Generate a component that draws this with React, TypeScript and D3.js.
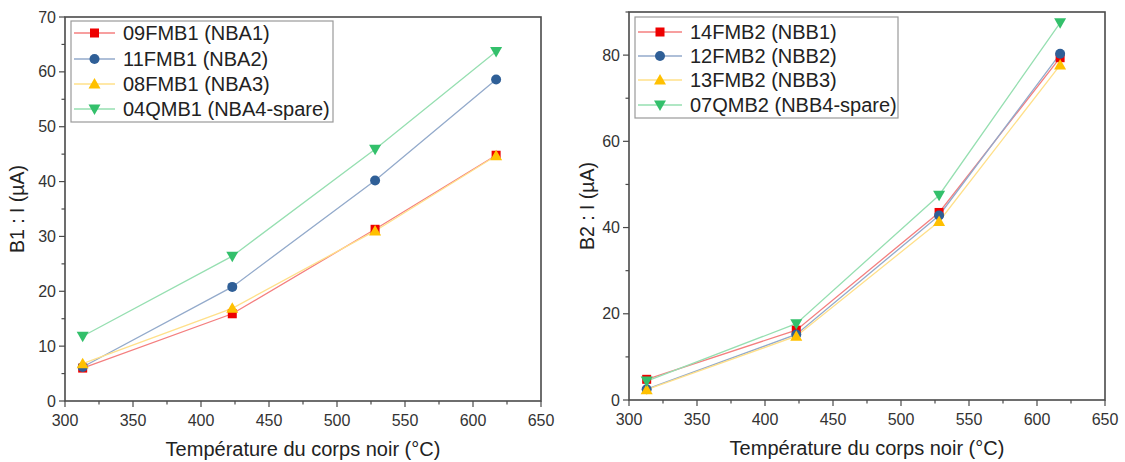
import React from "react";
import * as d3 from "d3";

const temps = [313, 423, 528, 617];

const leftNames = ["09FMB1 (NBA1)", "11FMB1 (NBA2)", "08FMB1 (NBA3)", "04QMB1 (NBA4-spare)"];
const leftA1 = [6.0, 15.9, 31.3, 44.8];
const leftA2 = [6.2, 20.8, 40.2, 58.6];
const leftA3 = [6.8, 16.9, 31.0, 44.7];
const leftA4 = [11.8, 26.4, 45.9, 63.7];

const rightNames = ["14FMB2 (NBB1)", "12FMB2 (NBB2)", "13FMB2 (NBB3)", "07QMB2 (NBB4-spare)"];
const rightB1 = [4.8, 16.2, 43.5, 79.4];
const rightB2 = [2.5, 15.2, 42.8, 80.3];
const rightB3 = [2.4, 14.8, 41.4, 77.7];
const rightB4 = [4.4, 17.7, 47.5, 87.5];

const xTicks = [300, 350, 400, 450, 500, 550, 600, 650];
const leftYTicks = [0, 10, 20, 30, 40, 50, 60, 70];
const rightYTicks = [0, 20, 40, 60, 80];

const markerShapes = ["square", "circle", "triangle", "triangleDown"];
const markerColors = ["#ee0000", "#2f5f97", "#ffc000", "#33c06b"];
const lineColors = ["#f47f7f", "#93aacb", "#ffe08a", "#96dfb1"];

const FONT = "'Liberation Sans', Arial, sans-serif";

function Marker({ shape, x, y, color }: { shape: string; x: number; y: number; color: string }) {
  if (shape === "square") return <rect x={x - 4.5} y={y - 4.5} width={9} height={9} fill={color} />;
  if (shape === "circle") return <circle cx={x} cy={y} r={5} fill={color} />;
  if (shape === "triangle")
    return <path d={`M${x},${y - 6} L${x + 6},${y + 4.5} L${x - 6},${y + 4.5} Z`} fill={color} />;
  return <path d={`M${x},${y + 6} L${x + 6},${y - 4.5} L${x - 6},${y - 4.5} Z`} fill={color} />;
}

type PanelProps = {
  x0: number; x1: number; yTop: number; yBot: number;
  yMax: number; yTicks: number[]; yMinor: number;
  series: number[][]; names: string[]; ylabel: string;
  legend: { x: number; y: number; w: number; h: number; rowY: number[]; textX: number };
  yLabelX: number;
};

function Panel(p: PanelProps) {
  const xs = d3.scaleLinear().domain([300, 650]).range([p.x0, p.x1]);
  const ys = d3.scaleLinear().domain([0, p.yMax]).range([p.yBot, p.yTop]);
  const line = d3.line<number>().x((_, i) => xs(temps[i])).y((d) => ys(d));
  const xMinor = d3.range(300, 651, 25);
  const yMinorTicks = d3.range(0, p.yMax + 0.001, p.yMinor);
  const axisColor = "#4a4a4a";
  return (
    <g>
      {xMinor.map((t) => (
        <line key={"xm" + t} x1={xs(t)} x2={xs(t)} y1={p.yBot} y2={p.yBot + (t % 50 === 0 ? 6 : 3.5)} stroke={axisColor} strokeWidth={1.2} />
      ))}
      {yMinorTicks.map((t) => (
        <line key={"ym" + t} x1={p.x0} x2={p.x0 - (p.yTicks.includes(t) ? 6 : 3.5)} y1={ys(t)} y2={ys(t)} stroke={axisColor} strokeWidth={1.2} />
      ))}
      <rect x={p.x0} y={p.yTop} width={p.x1 - p.x0} height={p.yBot - p.yTop} fill="none" stroke={axisColor} strokeWidth={1.6} />
      {xTicks.map((t) => (
        <text key={"xl" + t} x={xs(t)} y={p.yBot + 25} textAnchor="middle" fontSize={16} fontFamily={FONT} fill="#333">{t}</text>
      ))}
      {p.yTicks.map((t) => (
        <text key={"yl" + t} x={p.x0 - 9} y={ys(t) + 5.5} textAnchor="end" fontSize={16} fontFamily={FONT} fill="#333">{t}</text>
      ))}
      <text x={(p.x0 + p.x1) / 2} y={p.yBot + 55} textAnchor="middle" fontSize={20} fontFamily={FONT} fill="#222">Température du corps noir (°C)</text>
      <text transform={`translate(${p.yLabelX},${(p.yTop + p.yBot) / 2}) rotate(-90)`} textAnchor="middle" fontSize={19.5} fontFamily={FONT} fill="#222">{p.ylabel}</text>
      {p.series.map((s, i) => (
        <path key={"l" + i} d={line(s) || ""} fill="none" stroke={lineColors[i]} strokeWidth={1.3} />
      ))}
      {p.series.map((s, i) =>
        s.map((v, j) => <Marker key={"m" + i + "-" + j} shape={markerShapes[i]} x={xs(temps[j])} y={ys(v)} color={markerColors[i]} />)
      )}
      <rect x={p.legend.x} y={p.legend.y} width={p.legend.w} height={p.legend.h} fill="#fff" stroke="#9a9a9a" strokeWidth={1.2} />
      {p.names.map((n, i) => (
        <g key={"lg" + i}>
          <line x1={p.legend.x + 3} x2={p.legend.textX - 8} y1={p.legend.rowY[i]} y2={p.legend.rowY[i]} stroke={lineColors[i]} strokeWidth={1.3} />
          <Marker shape={markerShapes[i]} x={(p.legend.x + 3 + p.legend.textX - 8) / 2} y={p.legend.rowY[i]} color={markerColors[i]} />
          <text x={p.legend.textX} y={p.legend.rowY[i] + 7} fontSize={20} fontFamily={FONT} fill="#222">{n}</text>
        </g>
      ))}
    </g>
  );
}

export default function App() {
  return (
    <svg width={1125} height={462} style={{ position: "absolute", left: 0, top: 0, background: "#fff" }}>
      <Panel
        x0={65} x1={541} yTop={17} yBot={401} yMax={70} yTicks={leftYTicks} yMinor={5}
        series={[leftA1, leftA2, leftA3, leftA4]} names={leftNames} ylabel="B1 : I (µA)"
        legend={{ x: 71, y: 21, w: 262, h: 101, rowY: [33, 59, 84, 109], textX: 123 }}
        yLabelX={24}
      />
      <Panel
        x0={629} x1={1105} yTop={12} yBot={400} yMax={90} yTicks={rightYTicks} yMinor={10}
        series={[rightB1, rightB2, rightB3, rightB4]} names={rightNames} ylabel="B2 : I (µA)"
        legend={{ x: 635, y: 17, w: 263, h: 101, rowY: [32, 56, 80, 105], textX: 690 }}
        yLabelX={594}
      />
    </svg>
  );
}
